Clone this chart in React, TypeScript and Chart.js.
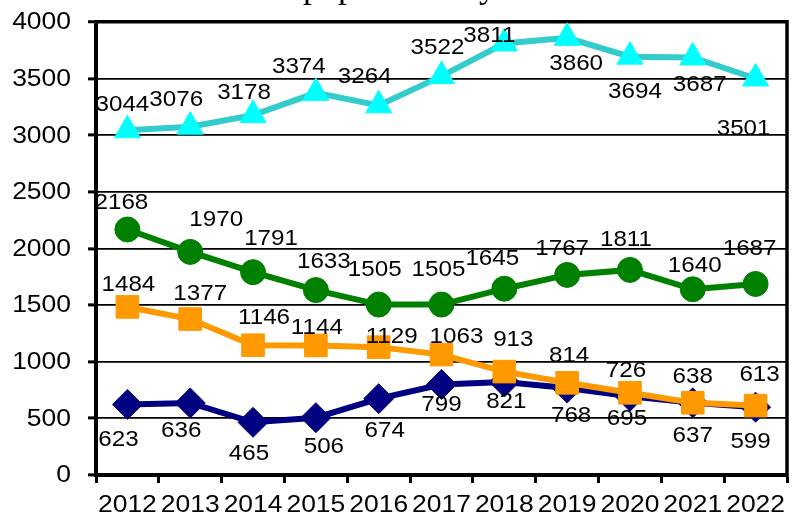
import React, { useEffect, useRef } from "react";
import { Chart, registerables } from "chart.js";

Chart.register(...registerables);

const years = ["2012", "2013", "2014", "2015", "2016", "2017", "2018", "2019", "2020", "2021", "2022"];
const yTicks = [0, 500, 1000, 1500, 2000, 2500, 3000, 3500, 4000];

const cyanValues = [3044, 3076, 3178, 3374, 3264, 3522, 3811, 3860, 3694, 3687, 3501];
const greenValues = [2168, 1970, 1791, 1633, 1505, 1505, 1645, 1767, 1811, 1640, 1687];
const orangeValues = [1484, 1377, 1146, 1144, 1129, 1063, 913, 814, 726, 638, 613];
const navyValues = [623, 636, 465, 506, 674, 799, 821, 768, 695, 637, 599];

const titleText = "population by";

// label placement offsets (pixels, relative to each point)
const cyanLabelOffsets = [[-5, -25], [-14, -27], [-9, -22], [-17, -26], [-14, -28], [-4, -28], [-15, -7], [9, 26], [5, 35], [7, 27], [-12, 50]];
const greenLabelOffsets = [[-6, -27], [26, -32], [18, -33], [8, -28], [-4, -35], [-3, -35], [-12, -30], [-5, -26], [-4, -30], [2, -23], [-6, -35]];
const orangeLabelOffsets = [[1, -22], [10, -25], [11, -27], [1, -18], [13, -10], [15, -18], [9, -32], [2, -27], [-4, -22], [0, -26], [4, -31]];
const navyLabelOffsets = [[-9, 35], [-9, 28], [-4, 32], [8, 29], [6, 32], [0, 20], [2, 20], [4, 28], [-3, 23], [0, 33], [-5, 35]];

const labelSets = [
  { values: cyanValues, offsets: cyanLabelOffsets },
  { values: greenValues, offsets: greenLabelOffsets },
  { values: orangeValues, offsets: orangeLabelOffsets },
  { values: navyValues, offsets: navyLabelOffsets },
];

const textPlugin = {
  id: "textPlugin",
  afterDraw(chart: any) {
    const { ctx, chartArea, scales } = chart;
    const xs = scales.x;
    const ys = scales.y;
    ctx.save();
    // right frame line
    ctx.strokeStyle = "#000";
    ctx.lineWidth = 3.5;
    ctx.beginPath();
    ctx.moveTo(chartArea.right, chartArea.top - 2);
    ctx.lineTo(chartArea.right, chartArea.bottom + 2);
    ctx.stroke();

    ctx.fillStyle = "#000";
    // y tick labels
    ctx.font = '23px "Liberation Sans", Arial, sans-serif';
    ctx.textAlign = "right";
    ctx.textBaseline = "middle";
    yTicks.forEach((v) => {
      const y = ys.getPixelForValue(v);
      ctx.save();
      ctx.translate(chartArea.left - 25, y + 1);
      ctx.scale(1.15, 1);
      ctx.fillText(String(v), 0, 0);
      ctx.restore();
    });
    // x tick labels
    ctx.textAlign = "center";
    years.forEach((yr, i) => {
      const x = xs.getPixelForValue(i);
      ctx.save();
      ctx.translate(x, chartArea.bottom + 31);
      ctx.scale(1.15, 1);
      ctx.fillText(yr, 0, 0);
      ctx.restore();
    });
    // data labels
    ctx.font = '22px "Liberation Sans", Arial, sans-serif';
    labelSets.forEach((s) => {
      s.values.forEach((v, i) => {
        const x = xs.getPixelForValue(i) + s.offsets[i][0];
        const y = ys.getPixelForValue(v) + s.offsets[i][1];
        ctx.save();
        ctx.translate(x, y);
        ctx.scale(1.1, 1);
        ctx.fillText(String(v), 0, 0);
        ctx.restore();
      });
    });
    // title (mostly cut off at top)
    ctx.font = '35px "Liberation Serif", "Times New Roman", serif';
    ctx.textAlign = "left";
    ctx.textBaseline = "alphabetic";
    ctx.fillText(titleText, 303, -3);
    ctx.restore();
  },
};

export default function App() {
  const canvasRef = useRef<HTMLCanvasElement | null>(null);

  useEffect(() => {
    document.body.style.margin = "0";
    const canvas = canvasRef.current;
    if (!canvas) return;
    const chart = new Chart(canvas, {
      type: "line",
      data: {
        labels: years,
        datasets: [
          {
            data: cyanValues,
            borderColor: "#33CCCC",
            backgroundColor: "#00FFFF",
            pointBackgroundColor: "#00FFFF",
            pointBorderColor: "#00FFFF",
            pointBorderWidth: 1,
            borderWidth: 6,
            pointStyle: "triangle",
            pointRadius: 15,
            tension: 0,
            clip: false as any,
          },
          {
            data: greenValues,
            borderColor: "#008000",
            backgroundColor: "#008000",
            pointBackgroundColor: "#008000",
            pointBorderColor: "#008000",
            pointBorderWidth: 1,
            borderWidth: 6,
            pointStyle: "circle",
            pointRadius: 12.5,
            tension: 0,
            clip: false as any,
          },
          {
            data: orangeValues,
            borderColor: "#FF9900",
            backgroundColor: "#FF9900",
            pointBackgroundColor: "#FF9900",
            pointBorderColor: "#FF9900",
            pointBorderWidth: 1,
            borderWidth: 6,
            pointStyle: "rect",
            pointRadius: 16,
            tension: 0,
            clip: false as any,
          },
          {
            data: navyValues,
            borderColor: "#000080",
            backgroundColor: "#000080",
            pointBackgroundColor: "#000080",
            pointBorderColor: "#000080",
            pointBorderWidth: 1,
            borderWidth: 6,
            pointStyle: "rectRot",
            pointRadius: 15,
            tension: 0,
            clip: false as any,
          },
        ],
      },
      options: {
        animation: false,
        responsive: false,
        layout: { padding: { top: 22, left: 88, right: 5, bottom: 36 } },
        plugins: {
          legend: { display: false },
          tooltip: { enabled: false },
          title: { display: false },
        },
        scales: {
          x: {
            type: "category",
            offset: true,
            grid: {
              display: true,
              drawOnChartArea: false,
              drawTicks: true,
              tickLength: 8,
              offset: true,
              tickWidth: 3,
              tickColor: "#000",
              color: "#000",
            },
            border: { display: true, color: "#000", width: 4 },
            ticks: { display: false },
          },
          y: {
            min: 0,
            max: 4000,
            ticks: { display: false, stepSize: 500 },
            grid: {
              color: "#000",
              lineWidth: (c: any) => (c.tick && c.tick.value === 4000 ? 3.5 : 1.8),
              drawTicks: true,
              tickLength: 8,
              tickWidth: 3,
              tickColor: "#000",
            },
            border: { display: true, color: "#000", width: 4 },
          },
        },
      },
      plugins: [textPlugin],
    });
    return () => chart.destroy();
  }, []);

  return (
    <div style={{ position: "absolute", left: 0, top: 0, width: 804, height: 519 }}>
      <canvas ref={canvasRef} width={804} height={519} />
    </div>
  );
}
